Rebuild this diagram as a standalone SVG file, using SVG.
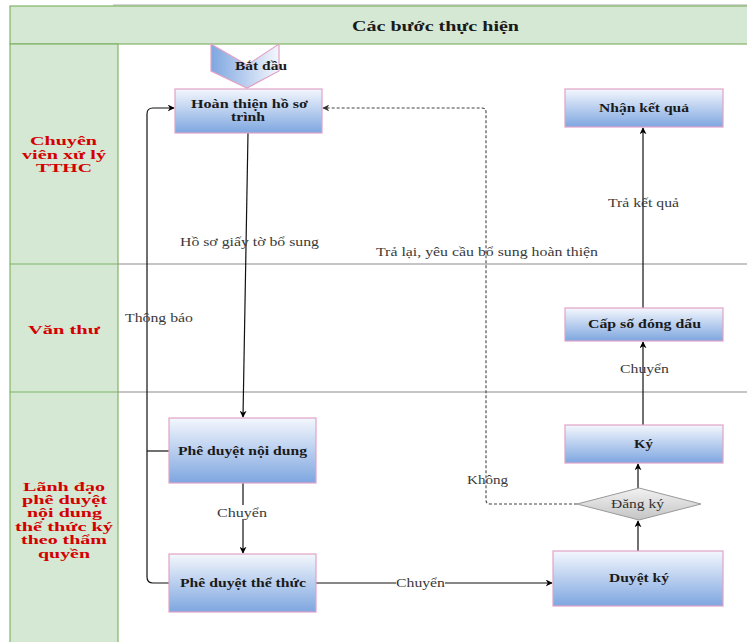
<svg xmlns="http://www.w3.org/2000/svg" width="747" height="642" viewBox="0 0 747 642">
  <defs>
    <linearGradient id="boxFill" x1="0" y1="0" x2="0" y2="1">
      <stop offset="0" stop-color="#f4f7fd"/>
      <stop offset="1" stop-color="#7ea6e0"/>
    </linearGradient>
    <linearGradient id="startFill" x1="0" y1="0" x2="1" y2="0">
      <stop offset="0" stop-color="#7ea6e0"/>
      <stop offset="1" stop-color="#f4f7fd"/>
    </linearGradient>
    <linearGradient id="decisionFill" x1="0" y1="0" x2="0" y2="1">
      <stop offset="0" stop-color="#f2f2f2"/>
      <stop offset="1" stop-color="#c4c4c4"/>
    </linearGradient>
    <marker id="arrow" viewBox="0 0 10 10" refX="9" refY="5" markerWidth="7" markerHeight="7" orient="auto" markerUnits="userSpaceOnUse">
      <path d="M0,0 L10,5 L0,10 L3,5 Z" fill="#000"/>
    </marker>
    <marker id="arrowDash" viewBox="0 0 10 10" refX="9" refY="5" markerWidth="7" markerHeight="7" orient="auto" markerUnits="userSpaceOnUse">
      <path d="M0,0 L10,5 L0,10 L3,5 Z" fill="#333"/>
    </marker>
  </defs>
  <style>
    .lane { fill: #d5e8d4; stroke: #82b366; stroke-width: 1.2; }
    .sep { stroke: #8c8c8c; stroke-width: 1.2; fill: none; }
    .box { fill: url(#boxFill); stroke: #e2a2c6; stroke-width: 1.2; }
    text { font-family: "Liberation Serif", "Times New Roman", serif; text-anchor: middle; }
    .lbl { font-weight: bold; font-size: 12px; fill: #1a1a1a; }
    .dlbl { font-weight: normal; font-size: 12px; fill: #333; }
    .lane-title { font-weight: bold; font-size: 13px; fill: #d40000; }
    .head { font-weight: bold; font-size: 14px; fill: #1a1a1a; }
    .edge { stroke: #111; stroke-width: 1.2; fill: none; }
    .dash { stroke: #444; stroke-width: 1.1; fill: none; stroke-dasharray: 3 2; }
    .elbl { font-size: 12px; fill: #3a3a3a; }
  </style>

  <rect width="747" height="642" fill="#ffffff"/>

  <!-- swimlane frame -->
  <g id="lanes">
    <line x1="113" y1="5" x2="747" y2="5" stroke="#c8c8c8" stroke-width="1.5"/>
    <rect class="lane" x="10" y="6" width="745" height="38"/>
    <rect class="lane" x="10" y="44" width="108" height="610"/>
    <line x1="10" y1="264" x2="118" y2="264" stroke="#82b366" stroke-width="1.2"/>
    <line x1="10" y1="392" x2="118" y2="392" stroke="#82b366" stroke-width="1.2"/>
    <line class="sep" x1="118" y1="264" x2="747" y2="264"/>
    <line class="sep" x1="118" y1="392" x2="747" y2="392"/>
    <text class="head" x="435.5" y="31" textLength="167" lengthAdjust="spacingAndGlyphs">Các bước thực hiện</text>
    <text class="lane-title" x="63.5" y="145" textLength="67" lengthAdjust="spacingAndGlyphs">Chuyên</text>
    <text class="lane-title" x="64" y="159" textLength="84" lengthAdjust="spacingAndGlyphs">viên xử lý</text>
    <text class="lane-title" x="64" y="172" textLength="56" lengthAdjust="spacingAndGlyphs">TTHC</text>
    <text class="lane-title" x="64" y="334" textLength="72" lengthAdjust="spacingAndGlyphs">Văn thư</text>
    <text class="lane-title" x="64" y="491" textLength="82" lengthAdjust="spacingAndGlyphs">Lãnh đạo</text>
    <text class="lane-title" x="64.5" y="504" textLength="85" lengthAdjust="spacingAndGlyphs">phê duyệt</text>
    <text class="lane-title" x="64.5" y="517" textLength="75" lengthAdjust="spacingAndGlyphs">nội dung</text>
    <text class="lane-title" x="64" y="531" textLength="98" lengthAdjust="spacingAndGlyphs">thể thức ký</text>
    <text class="lane-title" x="64" y="544" textLength="86" lengthAdjust="spacingAndGlyphs">theo thẩm</text>
    <text class="lane-title" x="64" y="558" textLength="52" lengthAdjust="spacingAndGlyphs">quyền</text>
  </g>

  <!-- connectors -->
  <g id="connectors">
    <line class="edge" x1="248" y1="133" x2="243" y2="417" marker-end="url(#arrow)"/>
    <line class="edge" x1="243" y1="483" x2="243" y2="553" marker-end="url(#arrow)"/>
    <line class="edge" x1="316" y1="583" x2="552" y2="583" marker-end="url(#arrow)"/>
    <line class="edge" x1="638" y1="551" x2="638" y2="521" marker-end="url(#arrow)"/>
    <line class="edge" x1="638" y1="488" x2="638" y2="464" marker-end="url(#arrow)"/>
    <line class="edge" x1="643" y1="425" x2="643" y2="342" marker-end="url(#arrow)"/>
    <line class="edge" x1="643" y1="308" x2="643" y2="128" marker-end="url(#arrow)"/>
    <path class="edge" d="M169,583 H153 Q147,583 147,577 V114 Q147,108 153,108 H174" marker-end="url(#arrow)"/>
    <line class="edge" x1="147" y1="451" x2="169" y2="451"/>
    <path class="dash" d="M577,504 H490 Q486,504 486,500 V112 Q486,108 482,108 H323" marker-end="url(#arrowDash)"/>

    <text class="elbl" x="249.5" y="246" textLength="139" lengthAdjust="spacingAndGlyphs">Hồ sơ giấy tờ bổ sung</text>
    <text class="elbl" x="159" y="322" textLength="68" lengthAdjust="spacingAndGlyphs">Thông báo</text>
    <text class="elbl" x="487" y="256" textLength="222" lengthAdjust="spacingAndGlyphs">Trả lại, yêu cầu bổ sung hoàn thiện</text>
    <text class="elbl" x="643.5" y="207" textLength="71" lengthAdjust="spacingAndGlyphs">Trả kết quả</text>
    <text class="elbl" x="644.5" y="373" textLength="49" lengthAdjust="spacingAndGlyphs">Chuyển</text>
    <text class="elbl" x="487.5" y="484" textLength="41" lengthAdjust="spacingAndGlyphs">Không</text>
    <rect x="217" y="505" width="50" height="14" fill="#ffffff"/>
    <text class="elbl" x="242" y="517" textLength="50" lengthAdjust="spacingAndGlyphs">Chuyển</text>
    <rect x="396" y="577" width="49" height="13" fill="#ffffff"/>
    <text class="elbl" x="420.5" y="587" textLength="49" lengthAdjust="spacingAndGlyphs">Chuyển</text>
  </g>

  <!-- nodes -->
  <g id="start">
    <polygon points="211,44 247,65 279,44 279,71 247,88 211,71" fill="url(#startFill)" stroke="#e2a2c6" stroke-width="1.2"/>
    <text class="lbl" x="261" y="70" textLength="52" lengthAdjust="spacingAndGlyphs">Bắt đầu</text>
  </g>
  <g id="hoan-thien">
    <rect class="box" x="175" y="89" width="147" height="44"/>
    <text class="lbl" x="249.5" y="108" textLength="117" lengthAdjust="spacingAndGlyphs">Hoàn thiện hồ sơ</text>
    <text class="lbl" x="248" y="121" textLength="34" lengthAdjust="spacingAndGlyphs">trình</text>
  </g>
  <g id="nhan-ket-qua">
    <rect class="box" x="565" y="89" width="158" height="38"/>
    <text class="lbl" x="644" y="112" textLength="90" lengthAdjust="spacingAndGlyphs">Nhận kết quả</text>
  </g>
  <g id="cap-so">
    <rect class="box" x="565" y="308" width="158" height="33"/>
    <text class="lbl" x="644.5" y="328" textLength="113" lengthAdjust="spacingAndGlyphs">Cấp số đóng dấu</text>
  </g>
  <g id="ky">
    <rect class="box" x="565" y="425" width="158" height="38"/>
    <text class="lbl" x="643.5" y="448" textLength="19" lengthAdjust="spacingAndGlyphs">Ký</text>
  </g>
  <g id="dang-ky">
    <polygon points="577,504 639,488 701,504 639,520" fill="url(#decisionFill)" stroke="#9a9a9a" stroke-width="1"/>
    <text class="dlbl" x="637.5" y="508" textLength="53" lengthAdjust="spacingAndGlyphs">Đăng ký</text>
  </g>
  <g id="duyet-ky">
    <rect class="box" x="553" y="551" width="170" height="55"/>
    <text class="lbl" x="639" y="582" textLength="60" lengthAdjust="spacingAndGlyphs">Duyệt ký</text>
  </g>
  <g id="phe-duyet-noi-dung">
    <rect class="box" x="169" y="418" width="147" height="65"/>
    <text class="lbl" x="242.5" y="455" textLength="129" lengthAdjust="spacingAndGlyphs">Phê duyệt nội dung</text>
  </g>
  <g id="phe-duyet-the-thuc">
    <rect class="box" x="169" y="554" width="147" height="58"/>
    <text class="lbl" x="243" y="587" textLength="126" lengthAdjust="spacingAndGlyphs">Phê duyệt thể thức</text>
  </g>
</svg>
